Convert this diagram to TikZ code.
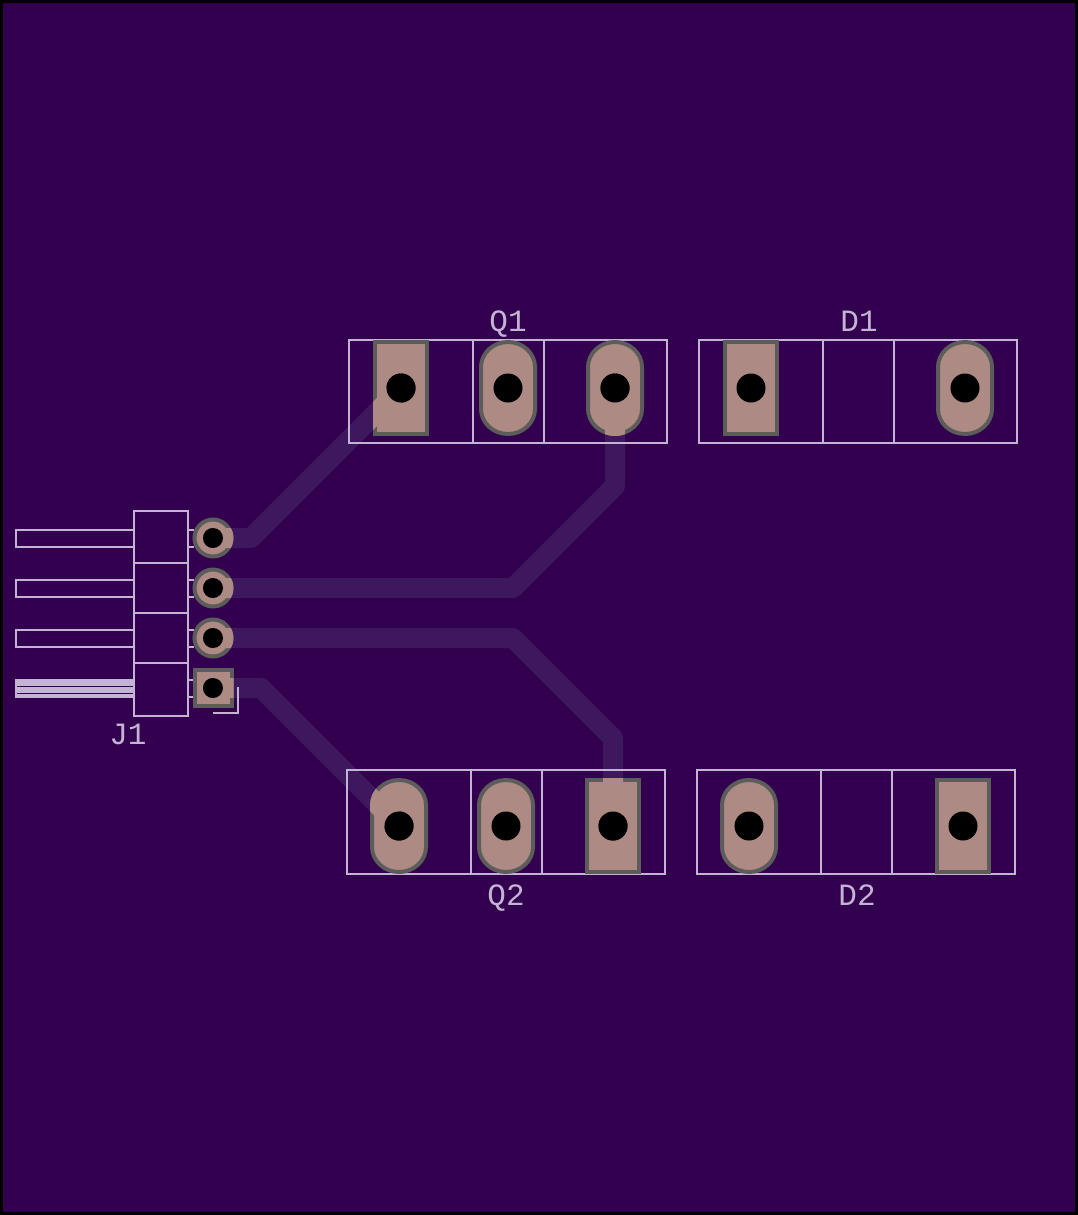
\documentclass[tikz,border=0pt]{standalone}
\usepackage{fontspec}
\setmainfont{Liberation Mono}
\definecolor{board}{HTML}{32004F}
\definecolor{trace}{HTML}{3D185E}
\definecolor{padfill}{HTML}{AE8A84}
\definecolor{padedge}{HTML}{5C5C5A}
\definecolor{silk}{HTML}{C4B4D4}
\newcommand{\ovalp}[3]{(#1) ++(-#2,-21) arc[start angle=180,end angle=90,x radius=#2pt,y radius=#3pt] arc[start angle=90,end angle=0,x radius=#2pt,y radius=#3pt] -- ++(0,42) arc[start angle=0,end angle=-90,x radius=#2pt,y radius=#3pt] arc[start angle=-90,end angle=-180,x radius=#2pt,y radius=#3pt] -- cycle}
\newcommand{\recp}[3]{(#1) ++(-#2,-#3) rectangle ++(2*#2,2*#3)}
\newcommand{\ovalpad}[1]{\path[padstyle] \ovalp{#1}{27}{25};\path[holestyle] (#1) circle[radius=14.5];}
\newcommand{\rectpad}[1]{\path[padstyle] \recp{#1}{26}{46};\path[holestyle] (#1) circle[radius=14.5];}
\newcommand{\roundpin}[1]{\path[padstyle] (#1) circle[radius=18.5];\path[holestyle] (#1) circle[radius=10];}
\tikzset{
  padstyle/.style={fill=padfill,draw=padedge,line width=4pt},
  holestyle/.style={fill=black},
  tracestyle/.style={draw=#1,line width=20pt,line join=round,line cap=round},
  silkline/.style={draw=silk,line width=2pt,line cap=rect},
  reftext/.style={text=silk,font=\fontsize{31}{31}\selectfont,inner sep=0pt,anchor=base}
}
\begin{document}
\begin{tikzpicture}[x=1pt,y=-1pt]
\useasboundingbox (0,0) rectangle (1078,1215);
\fill[board] (0,0) rectangle (1078,1215);
% pad centres
\coordinate (p1) at (213,688);\coordinate (p2) at (213,638);\coordinate (p3) at (213,588);\coordinate (p4) at (213,538);
\coordinate (q1a) at (401,388);\coordinate (q1b) at (508,388);\coordinate (q1c) at (615,388);
\coordinate (d1a) at (751,388);\coordinate (d1c) at (965,388);
\coordinate (q2a) at (399,826);\coordinate (q2b) at (506,826);\coordinate (q2c) at (613,826);
\coordinate (d2a) at (749,826);\coordinate (d2c) at (963,826);
% bends
\coordinate (b4) at (251,538);
\coordinate (b3a) at (513,588);\coordinate (b3b) at (615,486);
\coordinate (b2a) at (513,638);\coordinate (b2b) at (613,738);
\coordinate (b1) at (261,688);
% traces
\newcommand{\traceA}[1]{\draw[tracestyle=#1] (p4) -- (b4) -- (q1a);}
\newcommand{\traceB}[1]{\draw[tracestyle=#1] (p3) -- (b3a) -- (b3b) -- (q1c);}
\newcommand{\traceC}[1]{\draw[tracestyle=#1] (p2) -- (b2a) -- (b2b) -- (q2c);}
\newcommand{\traceD}[1]{\draw[tracestyle=#1] (p1) -- (b1) -- (q2a);}
\traceA{trace}\traceB{trace}\traceC{trace}\traceD{trace}
% silkscreen footprints
\draw[silkline] (349,340) rectangle (667,443) (473,340) -- (473,443) (544,340) -- (544,443);
\draw[silkline] (699,340) rectangle (1017,443) (823,340) -- (823,443) (894,340) -- (894,443);
\draw[silkline] (347,770) rectangle (665,874) (471,770) -- (471,874) (542,770) -- (542,874);
\draw[silkline] (697,770) rectangle (1015,874) (821,770) -- (821,874) (892,770) -- (892,874);
% J1
\draw[silkline] (134,511) rectangle (188,716) (134,563) -- (188,563) (134,613) -- (188,613) (134,663) -- (188,663);
\draw[silkline] (134,530) -- (16,530) -- (16,547) -- (134,547);
\draw[silkline] (134,580) -- (16,580) -- (16,597) -- (134,597);
\draw[silkline] (134,630) -- (16,630) -- (16,647) -- (134,647);
\fill[silk] (15,679) rectangle (134,698);
\draw[board,line width=1pt] (17,686.5) -- (133,686.5) (17,693) -- (133,693);
\draw[silkline] (188,530) -- (193,530) (188,547) -- (193,547)
  (188,580) -- (193,580) (188,597) -- (193,597)
  (188,630) -- (193,630) (188,647) -- (193,647)
  (188,680) -- (193,680) (188,697) -- (193,697);
\draw[silk,line width=2pt] (212.5,712.5) -- (237.5,712.5) -- (237.5,687);
% pads
\rectpad{q1a}\ovalpad{q1b}\ovalpad{q1c}
\rectpad{d1a}\ovalpad{d1c}
\ovalpad{q2a}\ovalpad{q2b}\rectpad{q2c}
\ovalpad{d2a}\rectpad{d2c}
\roundpin{p4}\roundpin{p3}\roundpin{p2}
\path[padstyle] \recp{p1}{18.5}{18};\path[holestyle] (p1) circle[radius=10];
% copper continuing into the pads
\begin{scope}\clip (p4) circle[radius=20.5];\traceA{padfill}\end{scope}
\begin{scope}\clip (p3) circle[radius=20.5];\traceB{padfill}\end{scope}
\begin{scope}\clip (p2) circle[radius=20.5];\traceC{padfill}\end{scope}
\begin{scope}\clip \recp{p1}{20.5}{20};\traceD{padfill}\end{scope}
\begin{scope}\clip \recp{q1a}{28}{48};\traceA{padfill}\end{scope}
\begin{scope}\clip \ovalp{q1c}{29}{27};\traceB{padfill}\end{scope}
\begin{scope}\clip \recp{q2c}{28}{48};\traceC{padfill}\end{scope}
\begin{scope}\clip \ovalp{q2a}{29}{27};\traceD{padfill}\end{scope}
\path[holestyle] (p4) circle[radius=10] (p3) circle[radius=10] (p2) circle[radius=10] (p1) circle[radius=10];
\path[holestyle] (q1a) circle[radius=14.5] (q1c) circle[radius=14.5] (q2c) circle[radius=14.5] (q2a) circle[radius=14.5];
% labels
\node[reftext] (lq1) at (508,331) {Q1};
\node[reftext] (ld1) at (859,331) {D1};
\node[reftext] (lq2) at (506,905) {Q2};
\node[reftext] (ld2) at (857,905) {D2};
\node[reftext] (lj1) at (128,744) {J1};
% board outline
\draw[black,line width=3pt] (1.5,1.5) rectangle (1076.5,1213.5);
\end{tikzpicture}
\end{document}
